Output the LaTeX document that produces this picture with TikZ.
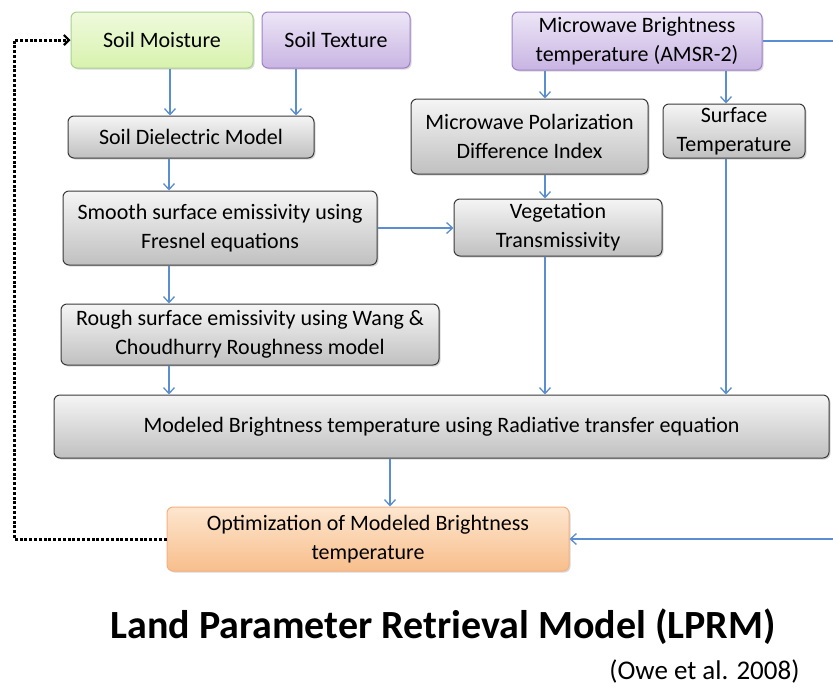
\documentclass[tikz,border=0pt]{standalone}
\usepackage{fontspec}
\setmainfont{Carlito}
\usetikzlibrary{arrows.meta,shadows}
\definecolor{flowblue}{HTML}{5A8ED0}
\definecolor{grayline}{HTML}{3A3A3A}
\definecolor{graytop}{HTML}{F5F5F5}
\definecolor{graybot}{HTML}{C0C0C0}
\definecolor{greenline}{HTML}{A9D18E}
\definecolor{greentop}{HTML}{EFFADD}
\definecolor{greenbot}{HTML}{D8F2AE}
\definecolor{purpleline}{HTML}{9E80C8}
\definecolor{purpletop}{HTML}{EDE6F7}
\definecolor{purplebot}{HTML}{C8B4E2}
\definecolor{orangeline}{HTML}{F4B183}
\definecolor{orangetop}{HTML}{FDE6CF}
\definecolor{orangebot}{HTML}{F8BE8B}

\begin{document}
\begin{tikzpicture}[x=1pt,y=-1pt,>={Straight Barb[length=6pt,width=11pt]},
  box/.style={rounded corners=6pt,align=center,inner sep=0pt,line width=1pt,
    font=\fontsize{22}{29}\selectfont,
    drop shadow={opacity=0.3,shadow xshift=1.5pt,shadow yshift=-1.5pt}},
  graybox/.style={box,draw=grayline,top color=graytop,bottom color=graybot},
  greenbox/.style={box,draw=greenline,top color=greentop,bottom color=greenbot},
  purplebox/.style={box,draw=purpleline,top color=purpletop,bottom color=purplebot},
  orangebox/.style={box,draw=orangeline,top color=orangetop,bottom color=orangebot},
  flow/.style={->,draw=flowblue,line width=1.3pt},
  feedback/.style={-{Straight Barb[length=5pt,width=10pt,line width=2.2pt]},draw=black,line width=3pt,dash pattern=on 3pt off 1.8pt}]

\useasboundingbox (0,0) rectangle (833,689);

\node[greenbox,minimum width=182,minimum height=56]  (moist)   at (162,40)    {Soil Moisture};
\node[purplebox,minimum width=148,minimum height=56] (texture) at (336,40)    {Soil Texture};
\node[purplebox,minimum width=250,minimum height=58] (mwbt)    at (637,41)    {Microwave Brightness\\temperature (AMSR-2)};
\node[graybox,minimum width=246,minimum height=42]   (diel)    at (191,137)   {Soil Dielectric Model};
\node[graybox,minimum width=237,minimum height=75]   (mpdi)    at (529.5,136.5) {Microwave Polarization\\Difference Index};
\node[graybox,minimum width=142,minimum height=54]   (surft)   at (734,131)   {Surface\\Temperature};
\node[graybox,minimum width=314,minimum height=74]   (smooth)  at (220,228)   {Smooth surface emissivity using\\Fresnel equations};
\node[graybox,minimum width=208,minimum height=57]   (veg)     at (558,227.5) {Vegetation\\Transmissivity};
\node[graybox,minimum width=378,minimum height=61]   (rough)   at (250,334.5) {Rough surface emissivity using Wang \&\\Choudhurry Roughness model};
\node[graybox,minimum width=775,minimum height=63]   (model)   at (441.5,426.5) {Modeled Brightness temperature using Radiative transfer equation};
\node[orangebox,minimum width=402,minimum height=64] (optim)   at (368,539)   {Optimization of Modeled Brightness\\temperature};

\node (title) at (443,627) {\fontsize{40}{46}\selectfont\bfseries Land Parameter Retrieval Model (LPRM)};
\node[anchor=east] (cite) at (803,671) {\fontsize{27}{30}\selectfont (Owe et al. 2008)};

\coordinate (edge) at (845,0);
\coordinate (loop) at (14,0);

\draw[flow] ([xshift=8]moist.south)    -- ([xshift=8]moist.south |- diel.north);
\draw[flow] ([xshift=-40]texture.south) -- ([xshift=-40]texture.south |- diel.north);
\draw[flow] ([xshift=-22]diel.south)   -- ([xshift=-22]diel.south |- smooth.north);
\draw[flow] ([xshift=-51]smooth.south) -- ([xshift=-51]smooth.south |- rough.north);
\draw[flow] ([xshift=-81]rough.south)  -- ([xshift=-81]rough.south |- model.north);
\draw[flow] (smooth.east) -- (smooth.east -| veg.west);
\draw[flow] ([xshift=-92]mwbt.south)   -- ([xshift=-92]mwbt.south |- mpdi.north);
\draw[flow] ([xshift=15.5]mpdi.south)  -- ([xshift=15.5]mpdi.south |- veg.north);
\draw[flow] ([xshift=-13]veg.south)    -- ([xshift=-13]veg.south |- model.north);
\draw[flow] ([xshift=89]mwbt.south)    -- ([xshift=89]mwbt.south |- surft.north);
\draw[flow] ([xshift=-8]surft.south)   -- ([xshift=-8]surft.south |- model.north);
\draw[flow] ([xshift=-51.5]model.south) -- ([xshift=-51.5]model.south |- optim.north);
\draw[flow] (mwbt.east) -- (mwbt.east -| edge) -- (edge |- optim.east) -- (optim.east);

\draw[feedback] (optim.west) -- (optim.west -| loop) -- (loop |- moist.west) -- (moist.west);

\end{tikzpicture}
\end{document}
